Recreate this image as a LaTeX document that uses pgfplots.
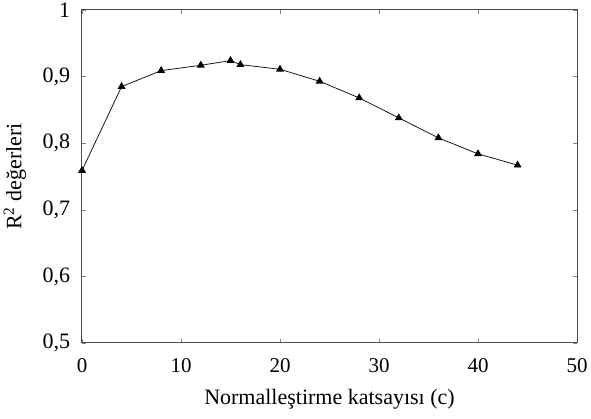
\documentclass[border=0pt]{standalone}
\usepackage{pgfplots}
\pgfplotsset{compat=1.18}
\usepackage{fontspec}
\setmainfont{Liberation Serif}
\begin{document}
\fontsize{20}{24}\selectfont
\begin{tikzpicture}
\path[use as bounding box] (-82pt,-76pt) rectangle (509pt,343pt);
\begin{axis}[
  scale only axis,
  width=495pt, height=333pt,
  xmin=0, xmax=50, ymin=0.5, ymax=1,
  xtick={0,10,20,30,40,50},
  ytick={0.5,0.6,0.7,0.8,0.9,1},
  tick align=inside,
  major tick length=4pt,
  tick style={gray, line width=0.5pt},
  axis line style={line width=1pt, black!70},
  /pgf/number format/assume math mode=true,
  /pgf/number format/use comma,
  /pgf/number format/fixed,
  /pgf/number format/precision=1,
  xticklabel style={font=\fontsize{21}{25}\selectfont, yshift=-9pt},
  yticklabel style={font=\fontsize{22}{26}\selectfont, xshift=-5pt},
  label style={font=\fontsize{22}{26}\selectfont},
  xlabel={Normalleştirme katsayısı (c)},
  ylabel={R\textsuperscript{2} değerleri},
  xlabel style={yshift=-3pt},
  ylabel style={yshift=3pt},
  clip=false,
]
\addplot[black!90, line width=0.8pt, mark=triangle*, mark size=3.8pt, mark options={black}] coordinates {
(0,0.759) (4,0.885) (8,0.909) (12,0.917) (15,0.924) (16,0.918) (20,0.911) (24,0.893) (28,0.868) (32,0.838) (36,0.808) (40,0.784) (44,0.767)
};
\end{axis}
\end{tikzpicture}
\end{document}
